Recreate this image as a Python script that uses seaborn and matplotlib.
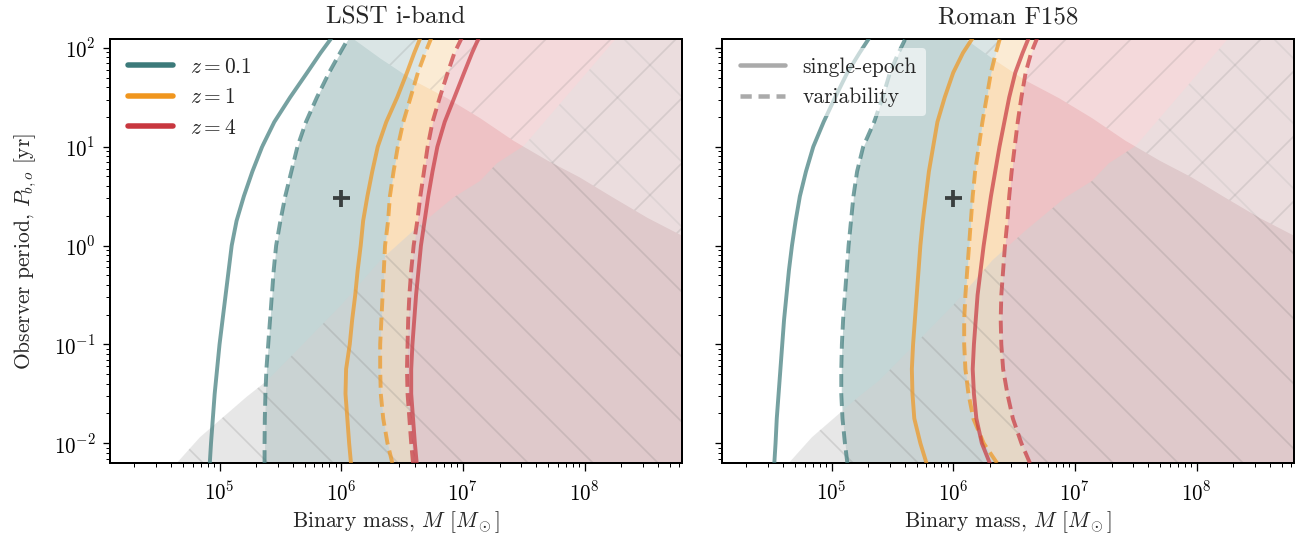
import numpy as np
import pandas as pd
import matplotlib
matplotlib.use("Agg")
import matplotlib.pyplot as plt
from matplotlib.lines import Line2D
import seaborn as sns

# ---------------- data ----------------
# observer period grid [yr]
period_yr = [0.0063, 0.01, 0.0178, 0.0316, 0.0562, 0.1, 0.178, 0.316, 0.562, 1.0,
             1.78, 3.16, 5.62, 10.0, 17.8, 31.6, 56.2, 89.0, 126.0]

redshifts = ["0.1", "1", "4"]

# log10 of binary mass [Msun] along each detection-threshold curve
lsst_single_logM = {
    "0.1": [4.92, 4.93, 4.945, 4.96, 4.98, 5.00, 5.025, 5.05, 5.075, 5.10,
            5.14, 5.20, 5.27, 5.35, 5.45, 5.58, 5.72, 5.83, 5.92],
    "1":   [6.08, 6.065, 6.05, 6.035, 6.04, 6.07, 6.09, 6.115, 6.135, 6.16,
            6.18, 6.215, 6.255, 6.30, 6.37, 6.46, 6.54, 6.60, 6.65],
    "4":   [6.62, 6.605, 6.59, 6.575, 6.575, 6.585, 6.60, 6.615, 6.635, 6.655,
            6.685, 6.715, 6.75, 6.79, 6.85, 6.93, 7.01, 7.075, 7.13],
}
lsst_var_logM = {
    "0.1": [5.37, 5.37, 5.372, 5.377, 5.385, 5.40, 5.415, 5.43, 5.445, 5.465,
            5.50, 5.54, 5.59, 5.64, 5.71, 5.80, 5.90, 5.99, 6.06],
    "1":   [6.42, 6.38, 6.345, 6.325, 6.32, 6.32, 6.33, 6.34, 6.35, 6.36,
            6.385, 6.40, 6.43, 6.465, 6.51, 6.57, 6.63, 6.69, 6.74],
    "4":   [6.59, 6.575, 6.56, 6.545, 6.54, 6.545, 6.55, 6.56, 6.575, 6.595,
            6.625, 6.65, 6.68, 6.71, 6.75, 6.81, 6.875, 6.93, 6.99],
}
roman_single_logM = {
    "0.1": [4.53, 4.54, 4.55, 4.565, 4.58, 4.595, 4.61, 4.63, 4.65, 4.675,
            4.705, 4.74, 4.79, 4.85, 4.935, 5.03, 5.13, 5.23, 5.31],
    "1":   [5.78, 5.73, 5.68, 5.665, 5.66, 5.67, 5.685, 5.70, 5.715, 5.73,
            5.75, 5.775, 5.80, 5.835, 5.87, 5.93, 6.00, 6.08, 6.16],
    "4":   [6.30, 6.235, 6.19, 6.17, 6.16, 6.17, 6.185, 6.20, 6.225, 6.25,
            6.28, 6.31, 6.345, 6.38, 6.42, 6.46, 6.51, 6.57, 6.62],
}
roman_var_logM = {
    "0.1": [5.13, 5.11, 5.09, 5.08, 5.08, 5.085, 5.095, 5.11, 5.125, 5.14,
            5.16, 5.18, 5.21, 5.26, 5.35, 5.42, 5.48, 5.55, 5.61],
    "1":   [6.36, 6.25, 6.165, 6.125, 6.10, 6.09, 6.09, 6.10, 6.115, 6.13,
            6.145, 6.16, 6.18, 6.21, 6.24, 6.275, 6.31, 6.35, 6.385],
    "4":   [6.63, 6.56, 6.49, 6.445, 6.41, 6.395, 6.39, 6.395, 6.41, 6.425,
            6.445, 6.46, 6.48, 6.505, 6.53, 6.56, 6.595, 6.64, 6.69],
}

# excluded regions (boundaries)
lower_mass = [4.45e4, 6.9e4, 1.67e5, 2.5e5, 1.0e6, 2.1e6, 3.9e6, 8.3e6, 1.38e7, 1.9e7, 3.16e7, 1.8e8, 6.3e8]
lower_period = [0.0063, 0.0115, 0.0295, 0.0437, 0.25, 0.71, 1.41, 3.05, 4.5, 6.8, 10.2, 123, 123]
upper_mass = [1.26e6, 2.1e6, 3.9e6, 7.4e6, 1.38e7, 2.6e7, 5.0e7, 9.1e7, 1.72e8, 3.3e8, 6.3e8]
upper_period = [123, 78, 47, 31, 19.5, 11.5, 7.2, 4.9, 3.05, 1.9, 1.26]

marker_mass = [1.0e6]
marker_period = [3.0]

titles = ["LSST i-band", "Roman F158"]
kinds = ["single-epoch", "variability"]

XLIM = (10 ** 4.1, 10 ** 8.8)
YLIM = (10 ** -2.2, 10 ** 2.09)

# ---------------- style ----------------
DPI = 195
W, H = 1299, 538


def pt(px):
    return px * 72.0 / DPI


sns.set_theme(style="ticks")
plt.rcParams.update({
    "font.family": "serif",
    "font.serif": ["cmr10", "DejaVu Serif"],
    "mathtext.fontset": "cm",
    "axes.formatter.use_mathtext": True,
    "axes.unicode_minus": False,
    "hatch.linewidth": pt(1.7),
    "axes.linewidth": pt(2.0),
    "xtick.major.size": pt(7.5), "ytick.major.size": pt(7.5),
    "xtick.minor.size": pt(4), "ytick.minor.size": pt(4),
    "xtick.major.width": pt(1.3), "ytick.major.width": pt(1.3),
    "xtick.minor.width": pt(1.0), "ytick.minor.width": pt(1.0),
    "xtick.major.pad": pt(10), "ytick.major.pad": pt(7),
    "xtick.direction": "out", "ytick.direction": "out",
    "xtick.color": "black", "ytick.color": "black",
    "axes.edgecolor": "black",
})

colors = {"0.1": "#3c7a7a", "1": "#f0961e", "4": "#c8373f"}
FS_TICK = pt(21)
FS_LABEL = pt(21.5)
FS_LEG = pt(21.5)
FS_TITLE = pt(25)
LW = pt(3.9)

fig = plt.figure(figsize=(W / DPI, H / DPI), dpi=DPI)
ax_l = fig.add_axes([110 / W, 1 - 463 / H, 572 / W, 424 / H])
ax_r = fig.add_axes([722 / W, 1 - 463 / H, 572 / W, 424 / H], sharey=ax_l)

panels = [(ax_l, lsst_single_logM, lsst_var_logM), (ax_r, roman_single_logM, roman_var_logM)]

for i, (ax, single, var) in enumerate(panels):
    ax.set_xscale("log")
    ax.set_yscale("log")
    ax.set_xlim(*XLIM)
    ax.set_ylim(*YLIM)

    vmass = {z: np.power(10.0, var[z]) for z in redshifts}
    smass = {z: np.power(10.0, single[z]) for z in redshifts}

    # detectable-variability regions between consecutive dashed curves
    ax.fill_betweenx(period_yr, vmass["0.1"], vmass["1"], color=colors["0.1"], alpha=0.3, lw=0, zorder=1)
    ax.fill_betweenx(period_yr, vmass["1"], vmass["4"], color=colors["1"], alpha=0.3, lw=0, zorder=1)
    ax.fill_betweenx(period_yr, vmass["4"], XLIM[1], color=colors["4"], alpha=0.3, lw=0, zorder=1)

    # excluded regions
    ax.fill_between(lower_mass, YLIM[0], lower_period, facecolor=(0.82, 0.82, 0.82, 0.5),
                    edgecolor=(0.45, 0.45, 0.45, 0.2), hatch="\\", lw=0, zorder=2)
    ax.fill_between(upper_mass, upper_period, YLIM[1], facecolor=(1, 1, 1, 0.38),
                    edgecolor=(0.45, 0.45, 0.45, 0.17), hatch="/", lw=0, zorder=2)

    rows = []
    for z in redshifts:
        for kind, src in zip(kinds, (smass, vmass)):
            for m, p in zip(src[z], period_yr):
                rows.append({"z": z, "kind": kind, "M": m, "P": p})
    df = pd.DataFrame(rows)
    sns.lineplot(data=df, x="M", y="P", hue="z", style="kind", palette=colors,
                 dashes={"single-epoch": "", "variability": (3.3, 1.6)},
                 orient="y", sort=True, estimator=None, legend=False,
                 lw=LW, alpha=0.7, ax=ax, zorder=3)

    ax.plot(marker_mass, marker_period, marker="+", ls="none", color="#3a3f3f",
            ms=pt(17), mew=pt(3.8), zorder=4)

    ax.set_title(titles[i], fontsize=FS_TITLE, pad=pt(15))
    ax.set_xlabel(r"Binary mass, $M$ [$M_\odot$]", fontsize=FS_LABEL, labelpad=pt(5))
    ax.tick_params(axis="both", which="major", labelsize=FS_TICK)
    for s in ax.spines.values():
        s.set_visible(True)
        s.set_color("black")

ax_l.set_ylabel(r"Observer period, $P_{b,o}$ [yr]", fontsize=FS_LABEL, labelpad=pt(15))
ax_r.set_ylabel("")
ax_r.tick_params(labelleft=False)

# legends
legkw = dict(loc="upper left", fontsize=FS_LEG, handlelength=2.1, handletextpad=0.8,
             labelspacing=0.52, frameon=True, framealpha=0.6, facecolor="white",
             edgecolor="none", borderaxespad=0.42, borderpad=0.42)
z_handles = [Line2D([], [], color=colors[z], lw=pt(5.5)) for z in redshifts]
leg1 = ax_l.legend(z_handles, [rf"$z = {z}$" for z in redshifts], **legkw)
k_handles = [Line2D([], [], color="#aaaaaa", lw=pt(4.5), ls="-"),
             Line2D([], [], color="#aaaaaa", lw=pt(4.5), ls=(0, (2.5, 1.5)))]
leg2 = ax_r.legend(k_handles, kinds, **legkw)
for leg in (leg1, leg2):
    leg.set_zorder(10)

fig.savefig("out.png", dpi=DPI)
